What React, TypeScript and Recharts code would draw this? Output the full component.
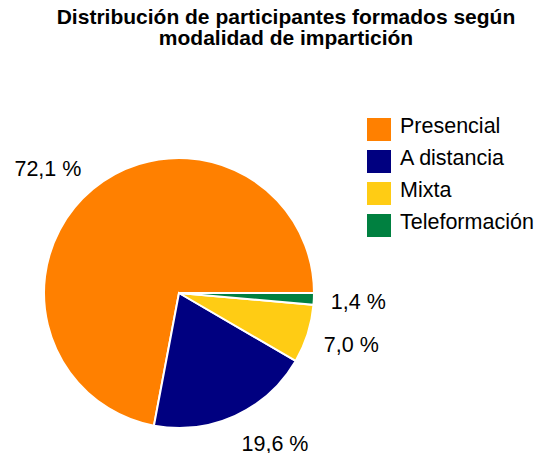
import { PieChart, Pie, Cell, Legend } from 'recharts'

const categories = ['Presencial', 'A distancia', 'Mixta', 'Teleformación']
const shares = [72.1, 19.6, 7.0, 1.4]
const colors = ['#FF8000', '#000080', '#FFCC14', '#008040']

const data = categories.map((name, i) => ({ name, value: shares[i] }))

const RAD = Math.PI / 180
const FONT = '"Liberation Sans", Arial, Helvetica, sans-serif'

const fmt = (v: number) => v.toFixed(1).replace('.', ',') + ' %'

const renderLabel = ({ cx, cy, midAngle, outerRadius, value }: any) => {
  const r = outerRadius + 18
  const cos = Math.cos(-midAngle * RAD)
  const sin = Math.sin(-midAngle * RAD)
  const x = cx + r * cos
  const y = cy + r * sin
  // shift the text box so its nearest corner sits on the anchor point
  const centerY = y + sin * 11
  return (
    <text
      x={x + (cos >= 0 ? -1 : 0)}
      y={centerY + 9}
      textAnchor={cos >= 0 ? 'start' : 'end'}
      fill="#000"
      fontSize={21.5}
      fontFamily={FONT}
    >
      {fmt(value)}
    </text>
  )
}

const LegendContent = () => (
  <div style={{ fontFamily: FONT, fontSize: 21.5, color: '#000' }}>
    {categories.map((c, i) => (
      <div key={c} style={{ display: 'flex', alignItems: 'center', height: 32 }}>
        <div style={{ width: 24, height: 23, background: colors[i], marginRight: 9 }} />
        <span style={{ lineHeight: '23px', marginTop: -5 }}>{c}</span>
      </div>
    ))}
  </div>
)

export default function App() {
  return (
    <div style={{ position: 'absolute', left: 0, top: 0, width: 537, height: 453, background: '#fff' }}>
      <div
        style={{
          position: 'absolute',
          top: 6,
          left: 0,
          width: 537,
          paddingLeft: 35,
          boxSizing: 'border-box',
          textAlign: 'center',
          fontFamily: FONT,
          fontWeight: 'bold',
          fontSize: 21,
          lineHeight: '21px',
          color: '#000',
        }}
      >
        Distribución de participantes formados según
        <br />
        modalidad de impartición
      </div>
      <PieChart width={537} height={453} margin={{ top: 0, right: 0, bottom: 0, left: 0 }}>
        <Pie
          data={data}
          dataKey="value"
          nameKey="name"
          cx={179}
          cy={293}
          outerRadius={135}
          startAngle={0}
          endAngle={360}
          stroke="#fff"
          strokeWidth={2}
          label={renderLabel}
          labelLine={false}
          isAnimationActive={false}
        >
          {data.map((d, i) => (
            <Cell key={d.name} fill={colors[i]} />
          ))}
        </Pie>
        <Legend
          layout="vertical"
          verticalAlign="top"
          align="right"
          content={<LegendContent />}
          wrapperStyle={{ top: 113, left: 367, width: 170 }}
        />
      </PieChart>
    </div>
  )
}
